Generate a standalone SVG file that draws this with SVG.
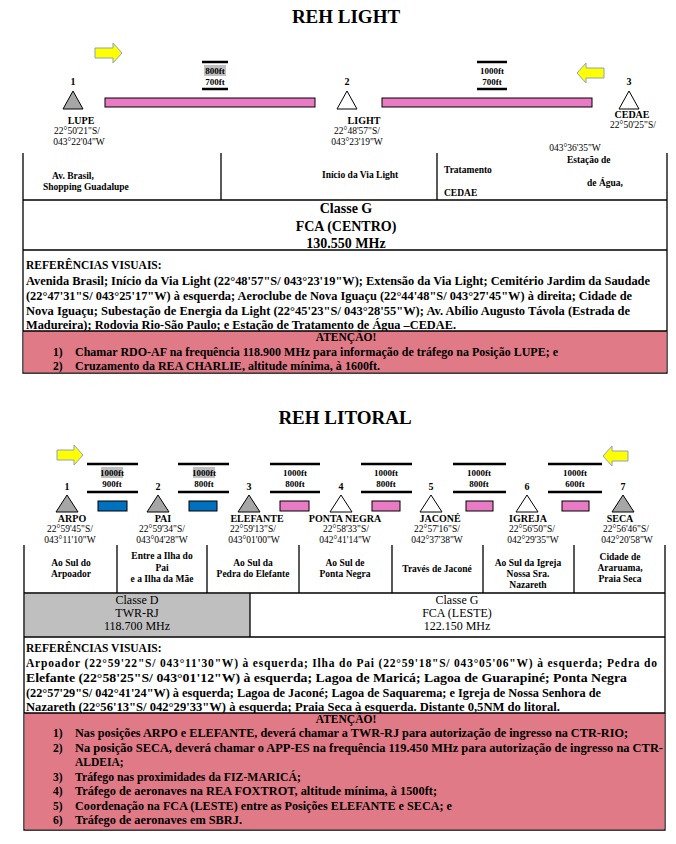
<svg xmlns="http://www.w3.org/2000/svg" width="676" height="844" viewBox="0 0 676 844">
<style>
text{font-family:"Liberation Serif","Times New Roman",serif;fill:#000}
.title{font-size:19px;font-weight:bold;text-anchor:middle}
.num{font-size:10px;font-weight:bold;text-anchor:middle}
.nm{font-size:10px;font-weight:bold;text-anchor:middle}
.co{font-size:9.5px;text-anchor:middle}
.cell{font-size:9.5px;font-weight:bold}
.cc{font-size:9.5px;font-weight:bold;text-anchor:middle}
.alt{font-size:9px;font-weight:bold;text-anchor:middle}
.cls{font-size:14px;font-weight:bold;text-anchor:middle}
.cls2{font-size:12px;text-anchor:middle}
.ref{font-size:11.5px;font-weight:bold}
.att{font-size:11.5px;font-weight:bold;text-anchor:middle}
.tri-g{fill:#a6a6a6;stroke:#000;stroke-width:1}
.tri-w{fill:#fff;stroke:#000;stroke-width:1}
.pink{fill:#e87bc3;stroke:#000;stroke-width:1}
.blue{fill:#0070c0;stroke:#000;stroke-width:1}
.arrow{fill:#ffff00;stroke:#8aa2c4;stroke-width:1}
.aline{stroke:#000;stroke-width:2.5}
.hl{fill:#c0c0c0}
.grid{stroke:#000;stroke-width:1.3;fill:none}
.warn{fill:#df7a86}
</style>

<!-- ================= REH LIGHT ================= -->
<text class="title" x="346" y="23">REH LIGHT</text>

<g id="light-arrows">
<path class="arrow" d="M95,48 H113 V43 L122,53 L113,63 V58 H95 Z"/>
<path class="arrow" d="M604,68 H586 V63 L577,73 L586,83 V78 H604 Z"/>
</g>

<g id="connectors-light">
<rect class="pink" x="105" y="98" width="210" height="9"/>
<rect class="pink" x="382" y="98" width="210" height="9"/>
<line class="aline" x1="202" y1="62" x2="228" y2="62"/>
<line class="aline" x1="202" y1="89" x2="228" y2="89"/>
<rect class="hl" x="204" y="65" width="22" height="11"/>
<text class="alt" x="215" y="74">800ft</text>
<text class="alt" x="215" y="85">700ft</text>
<line class="aline" x1="477" y1="62" x2="507" y2="62"/>
<line class="aline" x1="477" y1="89" x2="507" y2="89"/>
<text class="alt" x="492" y="74">1000ft</text>
<text class="alt" x="492" y="85">700ft</text>
</g>

<g id="node-lupe">
<text class="num" x="73" y="85">1</text>
<polygon class="tri-g" points="73,91 63,109 83,109"/>
<text class="nm" x="81" y="124">LUPE</text>
<text class="co" x="77" y="134">22°50'21"S/</text>
<text class="co" x="79" y="145">043°22'04"W</text>
</g>
<g id="node-light">
<text class="num" x="347" y="85">2</text>
<polygon class="tri-w" points="347,91 337,109 357,109"/>
<text class="nm" x="364" y="124">LIGHT</text>
<text class="co" x="357" y="134">22°48'57"S/</text>
<text class="co" x="357" y="145">043°23'19"W</text>
</g>
<g id="node-cedae">
<text class="num" x="629" y="85">3</text>
<polygon class="tri-w" points="629,91 619,109 639,109"/>
<text class="nm" x="632" y="118">CEDAE</text>
<text class="co" x="633" y="128">22°50'25"S/</text>
<text class="co" x="575" y="151">043°36'35"W</text>
</g>

<g id="table-light">
<path class="grid" d="M23,153 V373 H667 V153 M23,200 H667 M23,250 H667 M221,153 V200 M437,153 V200"/>
<text class="cell" x="52" y="179">Av. Brasil,</text>
<text class="cell" x="43" y="190">Shopping Guadalupe</text>
<text class="cell" x="322" y="178">Início da Via Light</text>
<text class="cell" x="444" y="173">Tratamento</text>
<text class="cell" x="444" y="196">CEDAE</text>
<text class="cell" x="567" y="163">Estação de</text>
<text class="cell" x="587" y="186">de Água,</text>
<text class="cls" x="346" y="213">Classe G</text>
<text class="cls" x="346" y="231">FCA (CENTRO)</text>
<text class="cls" x="346" y="248">130.550 MHz</text>
<text class="ref" x="26" y="269">REFERÊNCIAS VISUAIS:</text>
<text class="ref" x="26" y="285" textLength="624" lengthAdjust="spacingAndGlyphs">Avenida Brasil; Início da Via Light (22°48'57"S/ 043°23'19"W); Extensão da Via Light; Cemitério Jardim da Saudade</text>
<text class="ref" x="26" y="300" textLength="606" lengthAdjust="spacingAndGlyphs">(22°47'31"S/ 043°25'17"W) à esquerda; Aeroclube de Nova Iguaçu (22°44'48"S/ 043°27'45"W) à direita; Cidade de</text>
<text class="ref" x="26" y="315" textLength="604" lengthAdjust="spacingAndGlyphs">Nova Iguaçu; Subestação de Energia da Light (22°45'23"S/ 043°28'55"W); Av.  Abílio Augusto Távola (Estrada de</text>
<text class="ref" x="26" y="329" textLength="430" lengthAdjust="spacingAndGlyphs">Madureira); Rodovia Rio-São Paulo; e Estação de Tratamento de Água –CEDAE.</text>
<rect class="warn" x="23.6" y="331" width="642.8" height="41.4"/>
<path class="grid" d="M23,331 H667"/>
<text class="att" x="346" y="341">ATENÇÃO!</text>
<text class="ref" x="53" y="356">1)</text>
<text class="ref" x="75" y="356" textLength="483" lengthAdjust="spacingAndGlyphs">Chamar RDO-AF na frequência 118.900 MHz para informação de tráfego na Posição LUPE; e</text>
<text class="ref" x="53" y="370">2)</text>
<text class="ref" x="75" y="370" textLength="305" lengthAdjust="spacingAndGlyphs">Cruzamento da REA CHARLIE, altitude mínima, à 1600ft.</text>
</g>

<!-- ================= REH LITORAL ================= -->
<text class="title" x="345" y="424">REH LITORAL</text>

<g id="litoral-arrows">
<path class="arrow" d="M57,450 H74 V445 L83,455 L74,465 V460 H57 Z"/>
<path class="arrow" d="M628,451 H612 V446 L603,456 L612,466 V461 H628 Z"/>
</g>

<g id="connectors-litoral">
<line class="aline" x1="87" y1="464" x2="138" y2="464"/><line class="aline" x1="87" y1="492" x2="138" y2="492"/>
<rect class="hl" x="101" y="467" width="22" height="11"/>
<text class="alt" x="112" y="476">1000ft</text><text class="alt" x="112" y="487">900ft</text>
<rect class="blue" x="98" y="501" width="29" height="10"/>

<line class="aline" x1="178" y1="464" x2="229" y2="464"/><line class="aline" x1="178" y1="492" x2="229" y2="492"/>
<rect class="hl" x="193" y="467" width="22" height="11"/>
<text class="alt" x="204" y="476">1000ft</text><text class="alt" x="204" y="487">800ft</text>
<rect class="blue" x="189" y="501" width="28" height="10"/>

<line class="aline" x1="270" y1="464" x2="320" y2="464"/><line class="aline" x1="270" y1="492" x2="320" y2="492"/>
<text class="alt" x="295" y="476">1000ft</text><text class="alt" x="295" y="487">800ft</text>
<rect class="pink" x="280" y="501" width="29" height="10"/>

<line class="aline" x1="361" y1="464" x2="412" y2="464"/><line class="aline" x1="361" y1="492" x2="412" y2="492"/>
<text class="alt" x="386" y="476">1000ft</text><text class="alt" x="386" y="487">800ft</text>
<rect class="pink" x="372" y="501" width="28" height="10"/>

<line class="aline" x1="453" y1="464" x2="506" y2="464"/><line class="aline" x1="453" y1="492" x2="506" y2="492"/>
<text class="alt" x="479" y="476">1000ft</text><text class="alt" x="479" y="487">800ft</text>
<rect class="pink" x="466" y="501" width="27" height="10"/>

<line class="aline" x1="548" y1="464" x2="602" y2="464"/><line class="aline" x1="548" y1="492" x2="602" y2="492"/>
<text class="alt" x="575" y="476">1000ft</text><text class="alt" x="575" y="487">600ft</text>
<rect class="pink" x="562" y="501" width="27" height="10"/>
</g>

<g id="node-arpo">
<text class="num" x="67" y="490">1</text>
<polygon class="tri-g" points="67,495 56,512 78,512"/>
<text class="nm" x="72" y="522">ARPO</text>
<text class="co" x="70" y="532">22°59'45"S/</text>
<text class="co" x="70" y="543">043°11'10"W</text>
</g>
<g id="node-pai">
<text class="num" x="158" y="490">2</text>
<polygon class="tri-g" points="158,495 147,512 169,512"/>
<text class="nm" x="163" y="522">PAI</text>
<text class="co" x="162" y="532">22°59'34"S/</text>
<text class="co" x="162" y="543">043°04'28"W</text>
</g>
<g id="node-elefante">
<text class="num" x="249" y="490">3</text>
<polygon class="tri-g" points="249,495 238,512 260,512"/>
<text class="nm" x="257" y="522">ELEFANTE</text>
<text class="co" x="253" y="532">22°59'13"S/</text>
<text class="co" x="254" y="543">043°01'00"W</text>
</g>
<g id="node-pontanegra">
<text class="num" x="341" y="490">4</text>
<polygon class="tri-w" points="341,495 330,512 352,512"/>
<text class="nm" x="345" y="522">PONTA NEGRA</text>
<text class="co" x="346" y="532">22°58'33"S/</text>
<text class="co" x="345" y="543">042°41'14"W</text>
</g>
<g id="node-jacone">
<text class="num" x="431" y="490">5</text>
<polygon class="tri-w" points="431,495 420,512 442,512"/>
<text class="nm" x="440" y="522">JACONÉ</text>
<text class="co" x="437" y="532">22°57'16"S/</text>
<text class="co" x="437" y="543">042°37'38"W</text>
</g>
<g id="node-igreja">
<text class="num" x="527" y="490">6</text>
<polygon class="tri-w" points="527,495 516,512 538,512"/>
<text class="nm" x="528" y="522">IGREJA</text>
<text class="co" x="532" y="532">22°56'50"S/</text>
<text class="co" x="533" y="543">042°29'35"W</text>
</g>
<g id="node-seca">
<text class="num" x="623" y="490">7</text>
<polygon class="tri-g" points="623,495 612,512 634,512"/>
<text class="nm" x="620" y="522">SECA</text>
<text class="co" x="626" y="532">22°56'46"S/</text>
<text class="co" x="627" y="543">042°20'58"W</text>
</g>

<g id="table-litoral">
<rect x="24.6" y="593.6" width="225.4" height="43" fill="#bfbfbf"/>
<path class="grid" d="M24,545 V830 H665 V545 M24,593 H665 M24,637 H665 M117,545 V593 M207,545 V593 M299,545 V593 M392,545 V593 M483,545 V593 M574,545 V593 M250,593 V637"/>
<text class="cc" x="71" y="566">Ao Sul do</text>
<text class="cc" x="71" y="577">Arpoador</text>
<text class="cc" x="162" y="559">Entre a Ilha do</text>
<text class="cc" x="162" y="571">Pai</text>
<text class="cc" x="162" y="582">e a Ilha da Mãe</text>
<text class="cc" x="253" y="566">Ao Sul da</text>
<text class="cc" x="253" y="577">Pedra do Elefante</text>
<text class="cc" x="345" y="566">Ao Sul de</text>
<text class="cc" x="345" y="577">Ponta Negra</text>
<text class="cc" x="437" y="572">Través de Jaconé</text>
<text class="cc" x="528" y="566">Ao Sul da Igreja</text>
<text class="cc" x="528" y="577">Nossa Sra.</text>
<text class="cc" x="528" y="588">Nazareth</text>
<text class="cc" x="620" y="560">Cidade de</text>
<text class="cc" x="620" y="571">Araruama,</text>
<text class="cc" x="620" y="582">Praia Seca</text>
<text class="cls2" x="137" y="604">Classe D</text>
<text class="cls2" x="137" y="617">TWR-RJ</text>
<text class="cls2" x="137" y="630">118.700 MHz</text>
<text class="cls2" x="457" y="604">Classe G</text>
<text class="cls2" x="457" y="617">FCA (LESTE)</text>
<text class="cls2" x="457" y="630">122.150 MHz</text>
<text class="ref" x="26" y="652">REFERÊNCIAS VISUAIS:</text>
<text class="ref" x="26" y="667" textLength="631" lengthAdjust="spacing">Arpoador  (22°59'22"S/ 043°11'30"W) à esquerda; Ilha do Pai (22°59'18"S/ 043°05'06"W) à esquerda; Pedra do</text>
<text class="ref" x="26" y="682" textLength="601" lengthAdjust="spacingAndGlyphs">Elefante (22°58'25"S/ 043°01'12"W) à esquerda; Lagoa de Maricá; Lagoa de  Guarapiné; Ponta Negra</text>
<text class="ref" x="26" y="697" textLength="575" lengthAdjust="spacingAndGlyphs">(22°57'29"S/  042°41'24"W)  à esquerda; Lagoa de Jaconé; Lagoa de Saquarema; e Igreja de Nossa Senhora de</text>
<text class="ref" x="26" y="711" textLength="534" lengthAdjust="spacingAndGlyphs">Nazareth (22°56'13"S/ 042°29'33"W) à esquerda; Praia Seca à esquerda. Distante 0,5NM do litoral.</text>
<rect class="warn" x="24.6" y="713" width="639.8" height="116.4"/>
<path class="grid" d="M24,713 H665"/>
<text class="att" x="346" y="723">ATENÇÃO!</text>
<text class="ref" x="53" y="737">1)</text>
<text class="ref" x="75" y="737" textLength="553" lengthAdjust="spacingAndGlyphs">Nas posições ARPO e ELEFANTE, deverá chamar a TWR-RJ para autorização de ingresso na CTR-RIO;</text>
<text class="ref" x="53" y="752">2)</text>
<text class="ref" x="75" y="752" textLength="588" lengthAdjust="spacingAndGlyphs">Na posição SECA, deverá chamar o APP-ES na frequência 119.450 MHz para autorização de ingresso na CTR-</text>
<text class="ref" x="75" y="766">ALDEIA;</text>
<text class="ref" x="53" y="781">3)</text>
<text class="ref" x="75" y="781" textLength="226" lengthAdjust="spacingAndGlyphs">Tráfego nas proximidades da FIZ-MARICÁ;</text>
<text class="ref" x="53" y="795">4)</text>
<text class="ref" x="75" y="795" textLength="362" lengthAdjust="spacingAndGlyphs">Tráfego de aeronaves na REA FOXTROT, altitude mínima, à 1500ft;</text>
<text class="ref" x="53" y="810">5)</text>
<text class="ref" x="75" y="810" textLength="377" lengthAdjust="spacingAndGlyphs">Coordenação na FCA (LESTE) entre as Posições ELEFANTE e SECA; e</text>
<text class="ref" x="53" y="824">6)</text>
<text class="ref" x="75" y="824" textLength="167" lengthAdjust="spacingAndGlyphs">Tráfego de aeronaves em SBRJ.</text>
</g>
</svg>
